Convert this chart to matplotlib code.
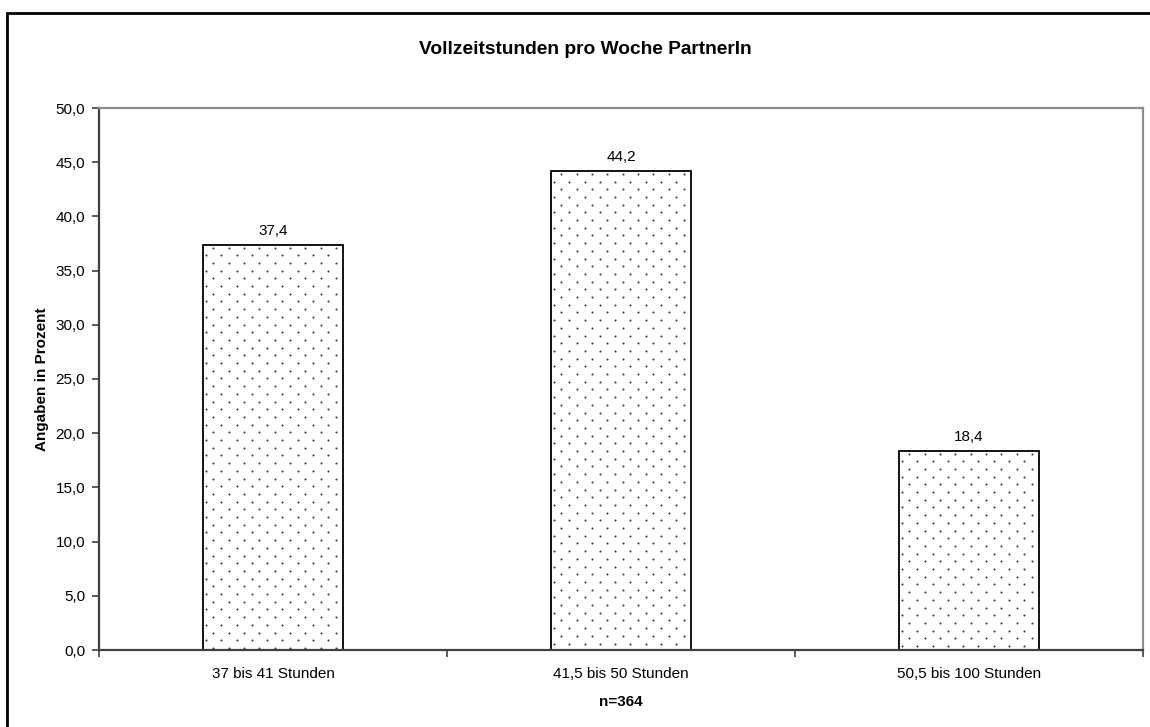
import numpy as np
import matplotlib
matplotlib.use("Agg")
import matplotlib.pyplot as plt
from matplotlib.patches import Rectangle

plt.rcParams['font.family'] = ['Liberation Sans', 'DejaVu Sans']

categories = ["37 bis 41 Stunden", "41,5 bis 50 Stunden", "50,5 bis 100 Stunden"]
percent = [37.4, 44.2, 18.4]
y_ticks = [0, 5, 10, 15, 20, 25, 30, 35, 40, 45, 50]


def de_fmt(v):
    return f"{v:.1f}".replace(".", ",")


fig = plt.figure(figsize=(11.5, 7.27), dpi=100)
ax = fig.add_axes([99 / 1150, 1 - 650 / 727, (1143 - 99) / 1150, (650 - 108) / 727])

x = np.arange(len(categories))
bars = ax.bar(x, percent, width=0.4, color="white", edgecolor="black", linewidth=1.3, zorder=2)

ax.set_xlim(-0.5, len(categories) - 0.5)
ax.set_ylim(0, 50)

# dotted fill: staggered dot lattice, spacing given in pixels
fig.canvas.draw()
px_per_x = ax.transData.transform((1, 0))[0] - ax.transData.transform((0, 0))[0]
px_per_y = ax.transData.transform((0, 1))[1] - ax.transData.transform((0, 0))[1]
dx = 15.3 / px_per_x
dy = 7.7 / px_per_y
for bar in bars:
    x0, w, h = bar.get_x(), bar.get_width(), bar.get_height()
    rows = np.arange(0, h + dy, dy)
    xs, ys = [], []
    for i, yy in enumerate(rows):
        start = x0 + (2.5 if i % 2 else 10.0) / px_per_x
        cols = np.arange(start, x0 + w, dx)
        xs.extend(cols)
        ys.extend([h - 3.0 / px_per_y - yy] * len(cols))
    dots = ax.scatter(xs, ys, s=2.2, color="#3a3a3a", linewidths=0, zorder=3)
    dots.set_clip_path(bar)

ax.bar_label(bars, labels=[de_fmt(v) for v in percent], padding=5, fontsize=11)

ax.set_yticks(y_ticks)
ax.set_yticklabels([de_fmt(v) for v in y_ticks], fontsize=11)
ax.tick_params(axis="y", direction="out", length=5, width=1.2, color="#404040", pad=5)

ax.set_xticks(x)
ax.set_xticklabels(categories, fontsize=11)
ax.set_xticks(np.arange(-0.5, len(categories)), minor=True)
ax.tick_params(axis="x", which="major", length=0, pad=12)
ax.tick_params(axis="x", which="minor", direction="out", length=5, width=1.2, color="#404040")

for side in ["left", "bottom"]:
    ax.spines[side].set_color("#404040")
    ax.spines[side].set_linewidth(1.6)
for side in ["top", "right"]:
    ax.spines[side].set_color("#8c8c8c")
    ax.spines[side].set_linewidth(1.6)

ax.set_ylabel("Angaben in Prozent", fontsize=11, fontweight="bold", labelpad=5)
ax.set_xlabel("n=364", fontsize=11, fontweight="bold", labelpad=10)

fig.text(0.509, 1 - 50 / 727, "Vollzeitstunden pro Woche PartnerIn",
         ha="center", va="center", fontsize=13.8, fontweight="bold")

# outer chart frame
fig.add_artist(Rectangle((7 / 1150, -0.2), 1.5, 1.2 - 13 / 727, transform=fig.transFigure,
                         fill=False, edgecolor="black", linewidth=2))

fig.savefig("out.png", dpi=100)
